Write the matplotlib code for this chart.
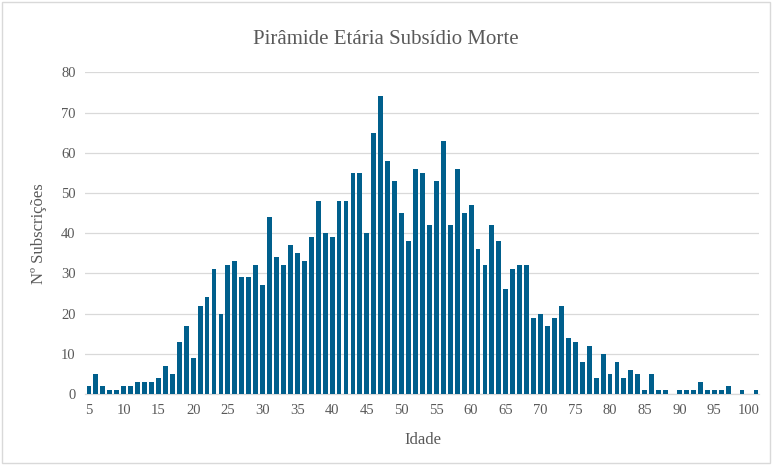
import matplotlib.pyplot as plt
import matplotlib.patches as patches
import numpy as np

# ages 5..101
idades = np.arange(5, 102)
subscricoes = [
    2, 5, 2, 1, 1, 2, 2, 3, 3, 3,        # 5-14
    4, 7, 5, 13, 17, 9, 22, 24, 31, 20,  # 15-24
    32, 33, 29, 29, 32, 27, 44, 34, 32, 37,  # 25-34
    35, 33, 39, 48, 40, 39, 48, 48, 55, 55,  # 35-44
    40, 65, 74, 58, 53, 45, 38, 56, 55, 42,  # 45-54
    53, 63, 42, 56, 45, 47, 36, 32, 42, 38,  # 55-64
    26, 31, 32, 32, 19, 20, 17, 19, 22, 14,  # 65-74
    13, 8, 12, 4, 10, 5, 8, 4, 6, 5,     # 75-84
    1, 5, 1, 1, 0, 1, 1, 1, 3, 1,        # 85-94
    1, 1, 2, 0, 1, 0, 1,                 # 95-101
]
tick_idades = np.arange(5, 101, 5)

titulo = 'Pirâmide Etária Subsídio Morte'
bar_color = '#005F8C'
grid_color = '#D9D9D9'
text_color = '#595959'

plt.rcParams['font.family'] = ['Liberation Serif', 'DejaVu Serif']

fig = plt.figure(figsize=(7.72, 4.65), dpi=100)
ax = fig.add_axes([0.1107, 0.1527, 0.873, 0.6918])

ax.bar(idades, subscricoes, width=0.7, color=bar_color, zorder=3)

ax.set_xlim(4.5, 101.5)
ax.set_ylim(0, 80)
ax.set_yticks(np.arange(0, 81, 10))
ax.set_xticks(tick_idades)
ax.tick_params(axis='both', length=0, labelsize=10.5, colors=text_color, pad=7)
ax.yaxis.grid(True, color=grid_color, linewidth=0.9, zorder=0)

for s in ['top', 'right', 'left']:
    ax.spines[s].set_visible(False)
ax.spines['bottom'].set_color(grid_color)
ax.spines['bottom'].set_linewidth(0.9)

ax.set_xlabel('Idade', fontsize=12, color=text_color, labelpad=11)
ax.set_ylabel('Nº Subscrições', fontsize=12, color=text_color, labelpad=10)

fig.text(0.5, 0.915, titulo, ha='center', va='center', fontsize=15, color=text_color)

# chart border
border = patches.Rectangle((0.002, 0.004), 0.996, 0.992, transform=fig.transFigure,
                           fill=False, edgecolor=grid_color, linewidth=1)
fig.patches.append(border)

fig.savefig('out.png', dpi=100)
